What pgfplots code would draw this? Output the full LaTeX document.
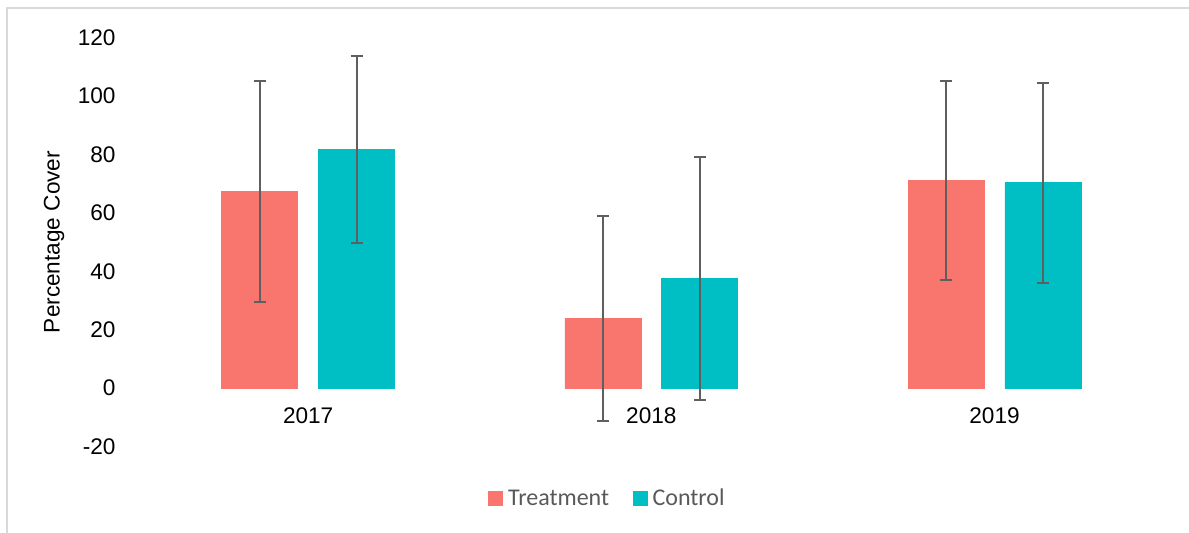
\documentclass[border=0pt]{standalone}
\usepackage{fontspec}
\setmainfont{Liberation Sans}
\newfontfamily\legendfont{Carlito}
\usepackage{pgfplots}
\pgfplotsset{compat=1.18}
\definecolor{treat}{HTML}{F8766D}
\definecolor{ctrl}{HTML}{00BFC4}
\definecolor{errgray}{HTML}{5F5F5F}
\definecolor{legtext}{HTML}{595959}
\definecolor{bordergray}{HTML}{D9D9D9}
\begin{document}
\begin{tikzpicture}
\useasboundingbox (0,0) rectangle (594.5pt,266.5pt);
\draw[color=bordergray, line width=0.75pt] (3.5pt,0pt) -- (3.5pt,262.5pt) -- (594.5pt,262.5pt);
\begin{axis}[
  at={(68.3pt,43.15pt)}, anchor=south west,
  scale only axis, width=514.75pt, height=204.7pt,
  xmin=0.5, xmax=3.5, ymin=-20, ymax=120,
  ybar=10.45pt, bar width=38pt,
  ytick={-20,0,20,40,60,80,100,120},
  xtick={1,2,3}, xticklabels={2017,2018,2019},
  axis x line*=middle, axis y line*=left,
  axis line style={draw=none},
  major tick length=0pt,
  tick label style={font=\fontsize{11.3}{13}\selectfont, text=black},
  /pgf/number format/assume math mode=true,
  xticklabel style={yshift=-6pt},
  yticklabel style={xshift=-7pt},
  ylabel={Percentage Cover},
  ylabel style={at={(axis description cs:-0.0802,0.5)}, anchor=center, font=\fontsize{11.3}{13}\selectfont},
  clip=false,
  legend columns=2,
  legend style={at={(axis description cs:0.3413,-0.128)}, anchor=west, draw=none, fill=none,
    inner sep=0pt, nodes={inner sep=0pt, text=legtext}, font=\legendfont\fontsize{12}{14}\selectfont,
    /tikz/every odd column/.append style={column sep=2.6pt},
    /tikz/every even column/.append style={column sep=11.9pt}},
  legend image code/.code={\fill[#1] (0pt,-3pt) rectangle (6.85pt,3.85pt);},
  error bars/y dir=both, error bars/y explicit,
  error bars/error mark=|,
  error bars/error bar style={color=errgray, line width=1pt},
  error bars/error mark options={color=errgray, mark size=3pt, line width=1pt},
]
\addplot[fill=treat, draw=treat]
  coordinates {(1,67.25) +- (0,37.75) (2,23.85) +- (0,35.05) (3,71.1) +- (0,34.1)};
\addlegendentry{Treatment}
\addplot[fill=ctrl, draw=ctrl]
  coordinates {(1,81.55) +- (0,31.95) (2,37.55) +- (0,41.65) (3,70.25) +- (0,34.15)};
\addlegendentry{Control}
\end{axis}
\end{tikzpicture}
\end{document}
